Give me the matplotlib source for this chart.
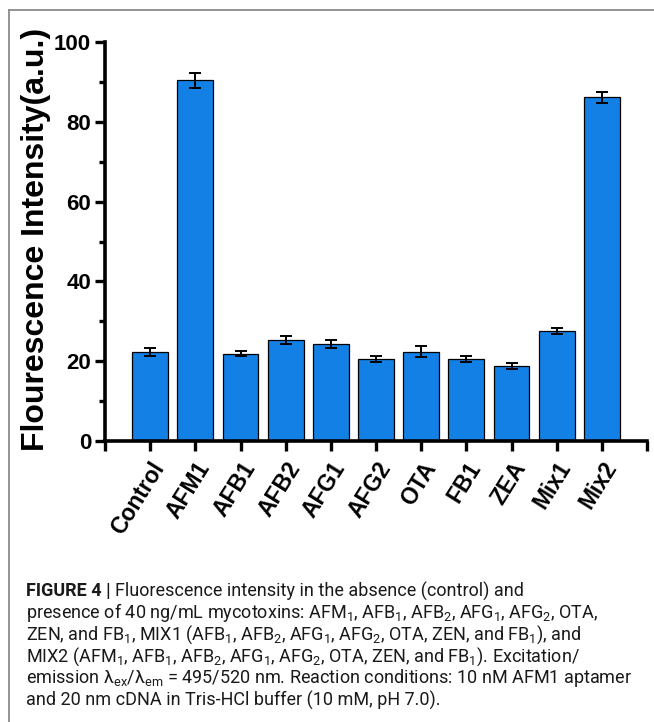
import numpy as np
import matplotlib
matplotlib.use("Agg")
import matplotlib.pyplot as plt
from matplotlib.lines import Line2D

# values
samples = ["Control", "AFM1", "AFB1", "AFB2", "AFG1", "AFG2", "OTA", "FB1", "ZEA", "Mix1", "Mix2"]
intensity = [22.2, 90.4, 21.9, 25.3, 24.3, 20.6, 22.4, 20.5, 18.8, 27.5, 86.1]
errors = [1.0, 1.9, 0.7, 1.0, 1.1, 0.7, 1.3, 0.8, 0.8, 0.8, 1.4]
yticks = [0, 20, 40, 60, 80, 100]

caption_lines = [
    "presence of 40 ng/mL mycotoxins: AFM$_1$, AFB$_1$, AFB$_2$, AFG$_1$, AFG$_2$, OTA,",
    "ZEN, and FB$_1$, MIX1 (AFB$_1$, AFB$_2$, AFG$_1$, AFG$_2$, OTA, ZEN, and FB$_1$), and",
    "MIX2 (AFM$_1$, AFB$_1$, AFB$_2$, AFG$_1$, AFG$_2$, OTA, ZEN, and FB$_1$). Excitation/",
    "emission λ$_{\\mathrm{ex}}$/λ$_{\\mathrm{em}}$ = 495/520 nm. Reaction conditions: 10 nM AFM1 aptamer",
    "and 20 nm cDNA in Tris-HCl buffer (10 mM, pH 7.0).",
]

plt.rcParams["font.family"] = ["Liberation Sans", "DejaVu Sans"]
plt.rcParams["mathtext.fontset"] = "custom"
plt.rcParams["mathtext.rm"] = "Roboto"
plt.rcParams["mathtext.it"] = "Roboto"
plt.rcParams["mathtext.bf"] = "Roboto:bold"

W, H = 654, 722
fig = plt.figure(figsize=(W / 100, H / 100), dpi=100)

# gray frame round the panel (top and left only)
fig.add_artist(Line2D([9 / W, 1], [1 - 10 / H, 1 - 10 / H], color="#8a8a8a", lw=1.3))
fig.add_artist(Line2D([9 / W, 9 / W], [0, 1 - 10 / H], color="#8a8a8a", lw=1.3))

ax = fig.add_axes([105 / W, 1 - 441 / H, (647 - 105) / W, (441 - 42) / H])
x = np.arange(1, len(samples) + 1)
ax.bar(x, intensity, width=0.79, color="#1380e6", edgecolor="black", linewidth=0.9, zorder=2)
ax.errorbar(x, intensity, yerr=errors, fmt="none", ecolor="black", elinewidth=1.4,
            capsize=4, capthick=1.4, zorder=3)

ax.set_xlim(0, 12)
ax.set_ylim(0, 100)
ax.spines["top"].set_visible(False)
ax.spines["right"].set_visible(False)
for s in ["left", "bottom"]:
    ax.spines[s].set_linewidth(2.6)

ax.set_xticks(np.arange(0, 13))
ax.set_xticklabels([""] + samples + [""], rotation=58, ha="right", rotation_mode="anchor",
                   fontsize=16.5, fontweight="bold")
ax.set_yticks(yticks)
ax.set_yticklabels([str(v) for v in yticks], fontsize=16, fontweight="bold")
ax.set_yticks(np.arange(10, 100, 20), minor=True)
ax.tick_params(axis="both", which="major", direction="out", length=7, width=2.4, pad=3)
ax.tick_params(axis="x", which="major", pad=5)
ax.tick_params(axis="y", which="minor", direction="out", length=4, width=2.4)
ax.set_ylabel("Flourescence Intensity(a.u.)", fontsize=23, fontweight="bold")
ax.yaxis.set_label_coords(-0.100, 0.505)

# caption
cap_font = "Roboto"
x0 = 26
y_first = 591
fig.canvas.draw()
renderer = fig.canvas.get_renderer()
t = fig.text(x0 / W, 1 - y_first / H, "FIGURE 4 |", fontsize=13, fontweight="bold",
             family=cap_font, va="center", color="#1a1a1a")
bb = t.get_window_extent(renderer=renderer)
fig.text((bb.x1 + 4) / W, 1 - y_first / H,
         "Fluorescence intensity in the absence (control) and",
         fontsize=13, family=cap_font, va="center", color="#1a1a1a")
for i, line in enumerate(caption_lines):
    fig.text(x0 / W, 1 - (y_first + 21.8 * (i + 1)) / H, line, fontsize=13,
             family=cap_font, va="center", color="#1a1a1a")

fig.savefig("out.png", dpi=100)
